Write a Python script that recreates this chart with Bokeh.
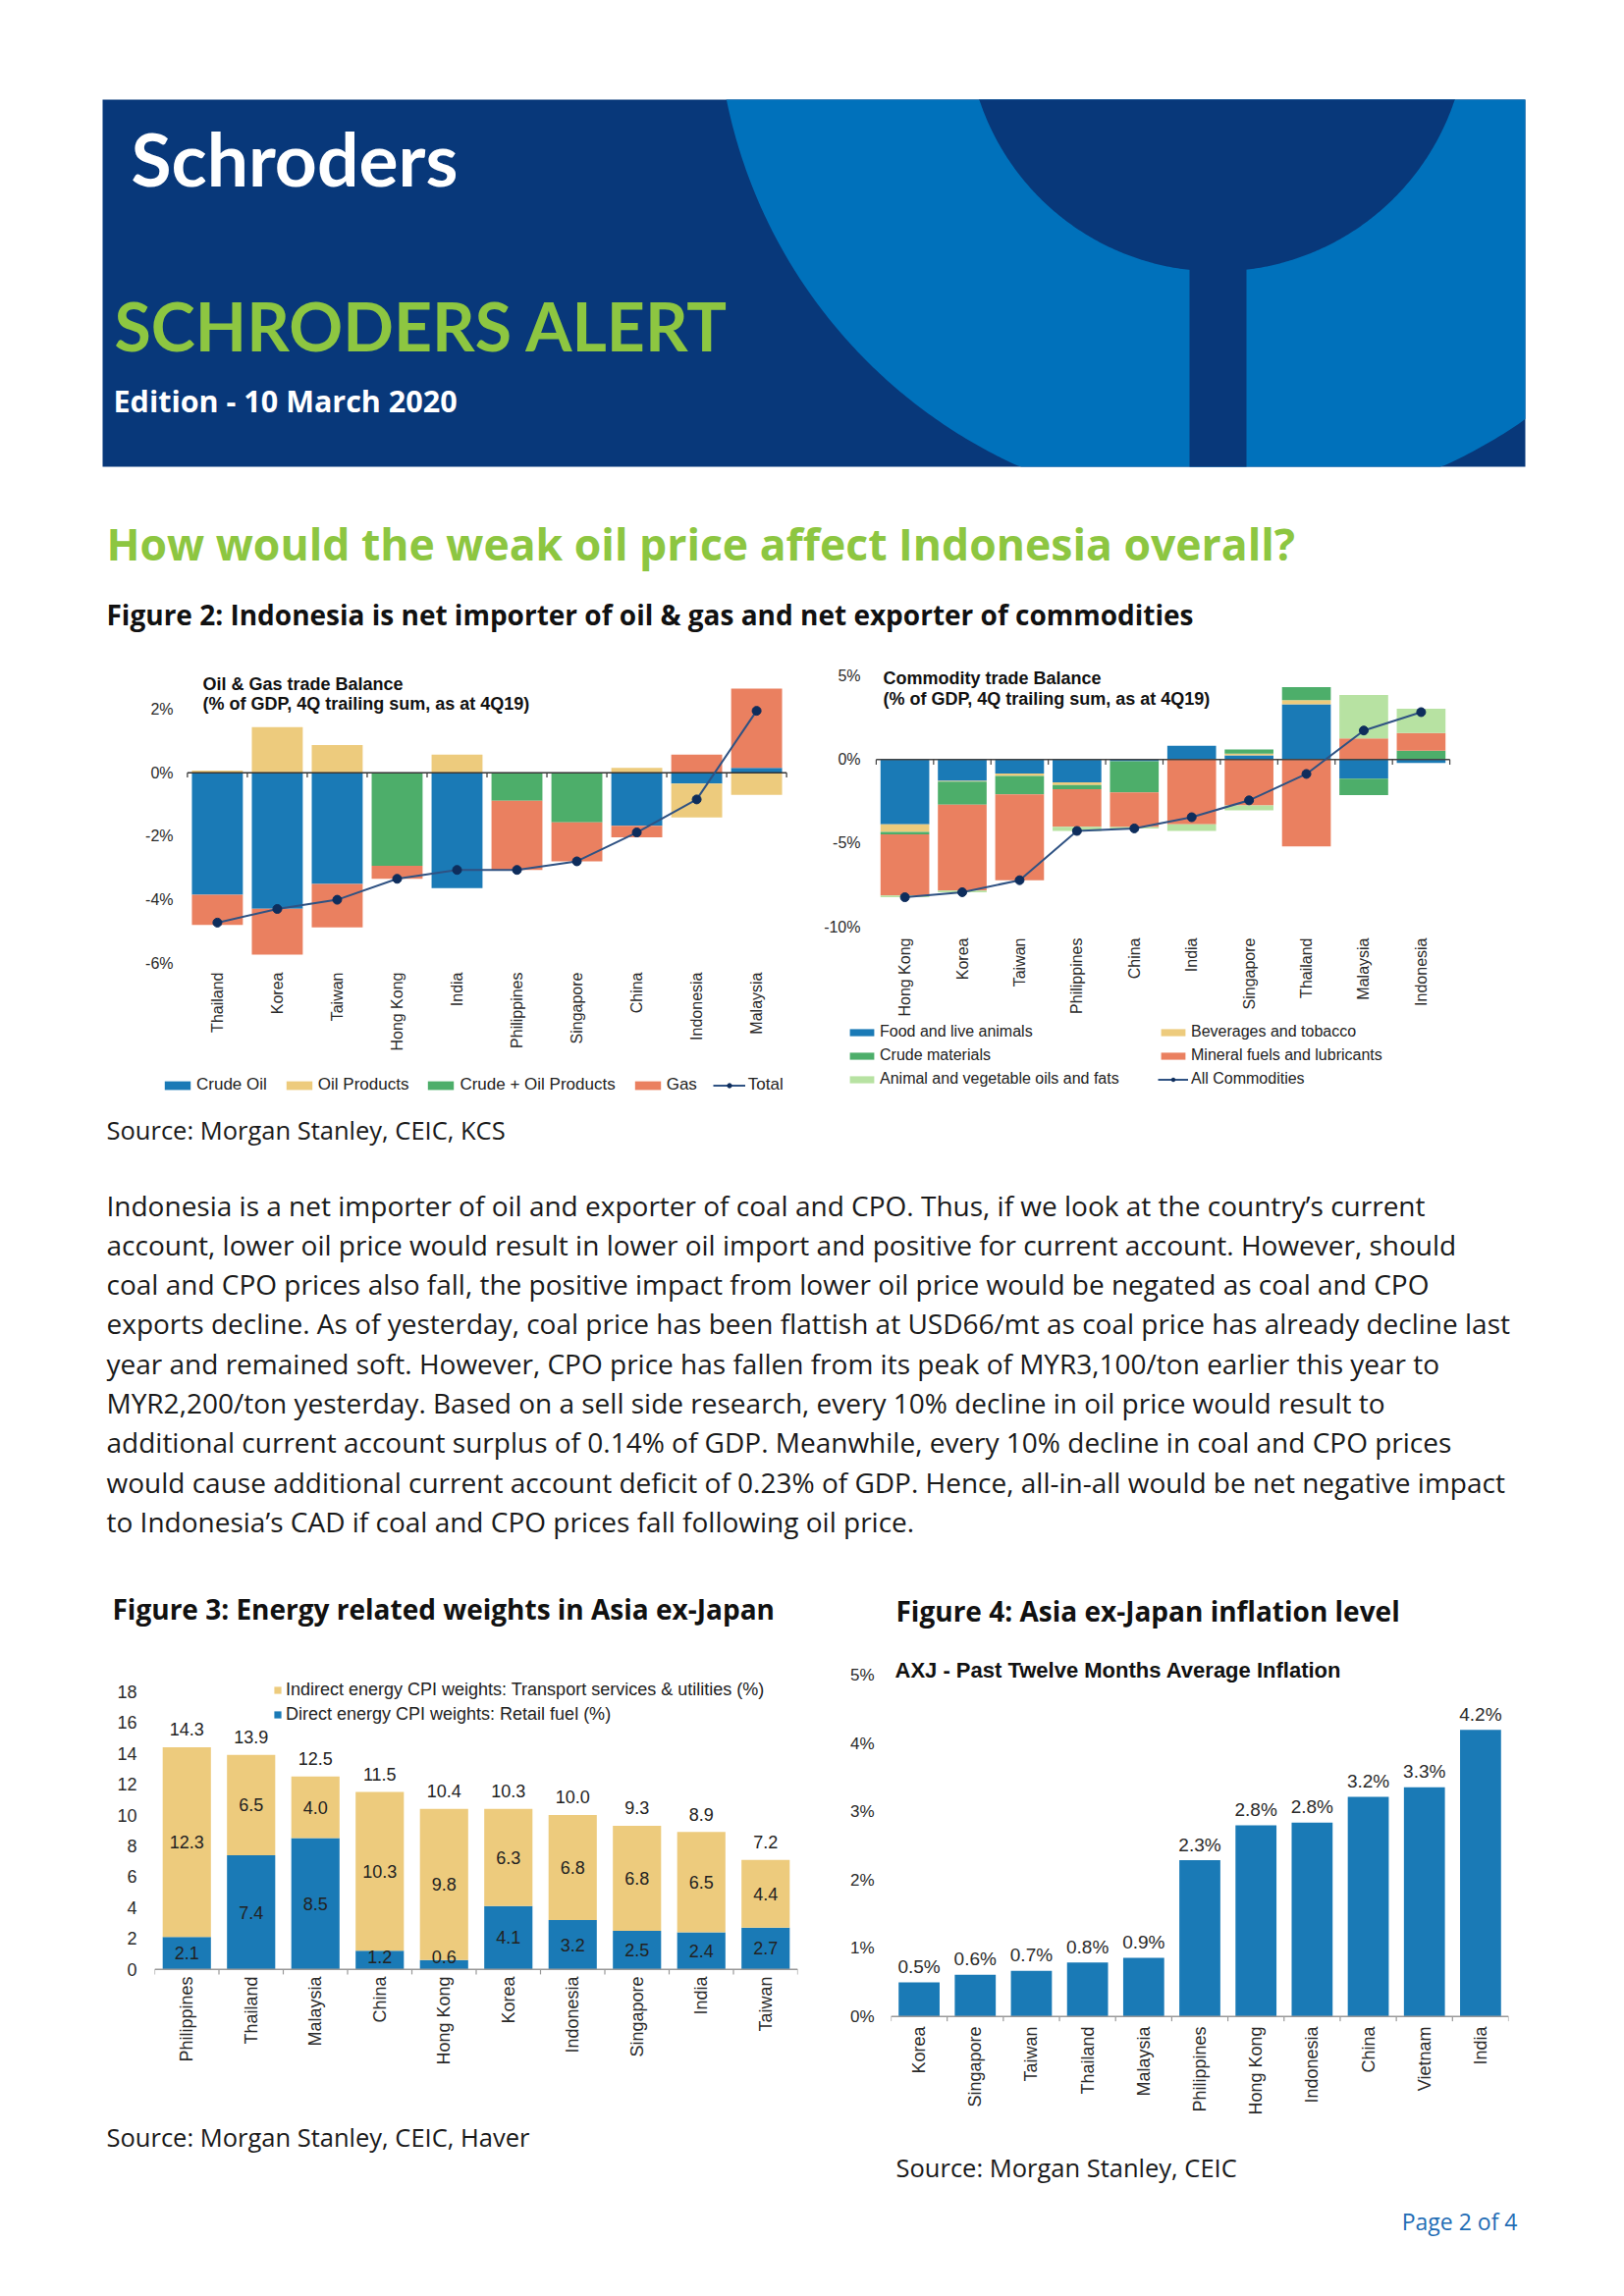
import math
import numpy as np
from bokeh.plotting import figure
from bokeh.models import (ColumnDataSource, Range1d, FactorRange, FixedTicker,
                          PrintfTickFormatter, Legend, LegendItem, Label)
from bokeh.layouts import column, row
from bokeh.core.properties import value
from bokeh.embed import file_html
from bokeh.resources import INLINE

# ---------------- data ----------------
og_countries = ["Thailand", "Korea", "Taiwan", "Hong Kong", "India", "Philippines",
                "Singapore", "China", "Indonesia", "Malaysia"]
og_crude_oil = [-3.84, -4.28, -3.50, 0.0, -3.63, 0.0, 0.0, -1.67, -0.34, 0.15]
og_oil_products = [0.07, 1.44, 0.87, 0.0, 0.57, 0.0, 0.0, 0.15, -1.07, -0.70]
og_crude_plus_oil = [0.0, 0.0, 0.0, -2.93, 0.0, -0.88, -1.56, 0.0, 0.0, 0.0]
og_gas = [-0.95, -1.45, -1.37, -0.41, 0.0, -2.18, -1.23, -0.36, 0.57, 2.50]
og_ticks = [-6, -4, -2, 0, 2]

cm_countries = ["Hong Kong", "Korea", "Taiwan", "Philippines", "China", "India",
                "Singapore", "Thailand", "Malaysia", "Indonesia"]
cm_food = [-3.88, -1.27, -0.84, -1.37, -0.10, 0.82, 0.25, 3.31, -1.14, -0.20]
cm_beverages = [-0.45, -0.05, -0.14, -0.16, 0.0, 0.0, 0.10, 0.25, 0.0, 0.0]
cm_crude_materials = [-0.14, -1.38, -1.10, -0.25, -1.86, 0.0, 0.25, 0.78, -0.98, 0.53]
cm_mineral_fuels = [-3.67, -5.14, -5.14, -2.24, -2.08, -3.88, -2.75, -5.20, 1.27, 1.06]
cm_animal_veg = [-0.10, -0.10, 0.0, -0.25, -0.08, -0.39, -0.29, 0.0, 2.59, 1.45]
cm_ticks = [-10, -5, 0, 5]

cpi_countries = ["Philippines", "Thailand", "Malaysia", "China", "Hong Kong", "Korea",
                 "Indonesia", "Singapore", "India", "Taiwan"]
cpi_direct = [2.1, 7.4, 8.5, 1.2, 0.6, 4.1, 3.2, 2.5, 2.4, 2.7]
cpi_indirect = [12.3, 6.5, 4.0, 10.3, 9.8, 6.3, 6.8, 6.8, 6.5, 4.4]
cpi_total = [14.3, 13.9, 12.5, 11.5, 10.4, 10.3, 10.0, 9.3, 8.9, 7.2]
cpi_ticks = [0, 2, 4, 6, 8, 10, 12, 14, 16, 18]

inf_countries = ["Korea", "Singapore", "Taiwan", "Thailand", "Malaysia", "Philippines",
                 "Hong Kong", "Indonesia", "China", "Vietnam", "India"]
inf_values = [0.50, 0.61, 0.67, 0.79, 0.86, 2.29, 2.80, 2.84, 3.22, 3.36, 4.20]
inf_labels = ["0.5%", "0.6%", "0.7%", "0.8%", "0.9%", "2.3%", "2.8%", "2.8%",
              "3.2%", "3.3%", "4.2%"]
inf_ticks = [0, 1, 2, 3, 4, 5]

paragraph = [
    "Indonesia is a net importer of oil and exporter of coal and CPO. Thus, if we look at the country\u2019s current",
    "account, lower oil price would result in lower oil import and positive for current account. However, should",
    "coal and CPO prices also fall, the positive impact from lower oil price would be negated as coal and CPO",
    "exports decline. As of yesterday, coal price has been flattish at USD66/mt as coal price has already decline last",
    "year and remained soft. However, CPO price has fallen from its peak of MYR3,100/ton earlier this year to",
    "MYR2,200/ton yesterday. Based on a sell side research, every 10% decline in oil price would result to",
    "additional current account surplus of 0.14% of GDP. Meanwhile, every 10% decline in coal and CPO prices",
    "would cause additional current account deficit of 0.23% of GDP. Hence, all-in-all would be net negative impact",
    "to Indonesia\u2019s CAD if coal and CPO prices fall following oil price.",
]

# ---------------- styles ----------------
W = 1636
DARK = "#08387A"
LIGHT = "#0071BB"
GREEN = "#8DC641"
BLUE = "#1A7AB6"
YELLOW = "#EDCB7D"
GREEN2 = "#4DAE6A"
SALMON = "#EA8060"
LGREEN = "#B7E2A2"
NAVY = "#0E2D5C"
LINEC = "#2F5283"
TXT = "#1a1a1a"
CF = "Liberation Sans"
BF = "Open Sans"


def stack(series_list):
    n = len(series_list[0])
    pos = np.zeros(n)
    neg = np.zeros(n)
    out = []
    for s in series_list:
        s = np.asarray(s, float)
        bottom = np.where(s >= 0, pos, neg)
        top = bottom + s
        pos = np.where(s >= 0, top, pos)
        neg = np.where(s < 0, top, neg)
        out.append((bottom, top))
    return out


def band(y0, y1):
    p = figure(width=W, height=y1 - y0, x_range=Range1d(8, 8 + W), y_range=Range1d(y1, y0),
               output_backend="svg", toolbar_location=None, min_border=0,
               x_axis_location=None, y_axis_location=None, title=None)
    p.grid.visible = False
    p.outline_line_color = None
    return p


def put_text(p, x, y, txt, size, color=TXT, font=BF, style="normal", align="left"):
    p.text(x=[x], y=[y], text=[txt], text_font=value(font), text_font_size=size,
           text_font_style=style, text_color=color, text_baseline="middle", text_align=align)


def chart(width, height, factors, yr, left, right, top, bottom, pad=0.0):
    p = figure(width=width, height=height,
               x_range=FactorRange(factors=factors, range_padding=pad, range_padding_units="absolute"),
               y_range=Range1d(*yr), output_backend="svg", toolbar_location=None,
               min_border_left=left, min_border_right=right, min_border_top=top,
               min_border_bottom=bottom, title=None)
    p.grid.visible = False
    p.outline_line_color = None
    return p


def style_axes(p, ysize, xsize, ystand, xstand):
    for ax in (p.xaxis, p.yaxis):
        ax.axis_line_color = None
        ax.major_tick_line_color = None
        ax.minor_tick_line_color = None
        ax.major_tick_out = 0
        ax.major_tick_in = 0
        ax.major_label_text_font = CF
        ax.major_label_text_color = "#2a2a2a"
    p.yaxis.major_label_text_font_size = ysize
    p.xaxis.major_label_text_font_size = xsize
    p.yaxis.major_label_standoff = ystand
    p.xaxis.major_label_standoff = xstand
    p.xaxis.major_label_orientation = math.pi / 2


def axis_line(p, n, tick, color, width=1.5):
    p.segment(x0=[0], y0=[0], x1=[n], y1=[0], line_color=color, line_width=width)
    p.segment(x0=list(range(n + 1)), y0=[0] * (n + 1), x1=list(range(n + 1)),
              y1=[-tick] * (n + 1), line_color=color, line_width=1.2)


def title_label(p, x, y, txt, size="18px"):
    p.add_layout(Label(x=x, y=y, x_units="screen", y_units="screen", text=txt, text_font=CF,
                       text_font_style="bold", text_font_size=size, text_color="#111111",
                       text_baseline="middle"))


# ---------------- band A: header ----------------
A = band(8, 670)
BX0, BX1, BY0, BY1 = 112, 1561, 109, 483
A.quad(left=[BX0], right=[BX1], top=[BY0], bottom=[BY1], fill_color=DARK, line_color=None)
th = np.linspace(0, 2 * np.pi, 721)
A.patch(np.clip(1261 + 524 * np.cos(th), BX0, BX1), np.clip(5 + 524 * np.sin(th), BY0, BY1),
        fill_color=LIGHT, line_color=None)
A.patch(np.clip(1247 + 255 * np.cos(th), BX0, BX1), np.clip(29 + 255 * np.sin(th), BY0, BY1),
        fill_color=DARK, line_color=None)
A.quad(left=[1219], right=[1277], top=[268], bottom=[BY1], fill_color=DARK, line_color=None)
put_text(A, 141, 168, "Schroders", "75px", "white", "Lato", "bold")
put_text(A, 124, 339, "SCHRODERS ALERT", "68px", GREEN, "Lato", "bold")
put_text(A, 123, 415.5, "Edition - 10 March 2020", "30.5px", "white", BF, "bold")
put_text(A, 116, 561, "How would the weak oil price affect Indonesia overall?", "44.5px", GREEN, BF, "bold")
put_text(A, 116, 633, "Figure 2: Indonesia is net importer of oil & gas and net exporter of commodities",
         "28px", "#111111", BF, "bold")

# ---------------- chart row B (frames: top 680, bottom 1124) ----------------
p1 = chart(830, 464, og_countries, (-10.179, 3.546), 164, 3, 10, 10, pad=0.4325)
style_axes(p1, "16px", "16px", -12, -126)
p1.yaxis.ticker = FixedTicker(ticks=og_ticks)
p1.yaxis.formatter = PrintfTickFormatter(format="%d%%")
og_names = ["Crude Oil", "Oil Products", "Crude + Oil Products", "Gas"]
og_cols = [BLUE, YELLOW, GREEN2, SALMON]
og_series = [og_crude_oil, og_oil_products, og_crude_plus_oil, og_gas]
items = []
for nm, colr, (b, t) in zip(og_names, og_cols, stack(og_series)):
    src = ColumnDataSource(dict(x=og_countries, bottom=b, top=t))
    r = p1.vbar(x="x", bottom="bottom", top="top", width=0.85, source=src,
                fill_color=colr, line_color=None)
    items.append(LegendItem(label=nm, renderers=[r]))
axis_line(p1, len(og_countries), 0.15, "#333333")
og_total = np.sum(np.array(og_series), axis=0)
ls = ColumnDataSource(dict(x=og_countries, y=og_total))
rl = p1.line(x="x", y="y", source=ls, line_color=LINEC, line_width=2)
rs = p1.scatter(x="x", y="y", source=ls, size=9, fill_color=NAVY, line_color=NAVY)
items.append(LegendItem(label="Total", renderers=[rl, rs]))
p1.add_layout(Legend(items=items, orientation="horizontal", location=(0, 1), glyph_width=33,
                     glyph_height=11, label_height=11, label_standoff=3, spacing=16, padding=0,
                     margin=0, label_text_font=CF, label_text_font_size="17px",
                     label_text_color="#222222", border_line_color=None,
                     background_fill_alpha=0))
title_label(p1, 42, 420, "Oil & Gas trade Balance")
title_label(p1, 42, 399.5, "(% of GDP, 4Q trailing sum, as at 4Q19)")

p2 = chart(806, 464, cm_countries, (-20.135, 5.952), 30, 128, 10, 10, pad=0.546)
style_axes(p2, "16px", "16px", -16, -161)
p2.yaxis.ticker = FixedTicker(ticks=cm_ticks)
p2.yaxis.formatter = PrintfTickFormatter(format="%d%%")
cm_names = ["Food and live animals", "Beverages and tobacco", "Crude materials",
            "Mineral fuels and lubricants", "Animal and vegetable oils and fats"]
cm_cols = [BLUE, YELLOW, GREEN2, SALMON, LGREEN]
cm_series = [cm_food, cm_beverages, cm_crude_materials, cm_mineral_fuels, cm_animal_veg]
rend2 = []
for colr, (b, t) in zip(cm_cols, stack(cm_series)):
    src = ColumnDataSource(dict(x=cm_countries, bottom=b, top=t))
    rend2.append(p2.vbar(x="x", bottom="bottom", top="top", width=0.85, source=src,
                         fill_color=colr, line_color=None))
axis_line(p2, len(cm_countries), 0.3, "#444444")
cm_total = np.sum(np.array(cm_series), axis=0)
ls2 = ColumnDataSource(dict(x=cm_countries, y=cm_total))
rl2 = p2.line(x="x", y="y", source=ls2, line_color=LINEC, line_width=2)
rs2 = p2.scatter(x="x", y="y", source=ls2, size=9, fill_color=NAVY, line_color=NAVY)
leg_kw = dict(orientation="vertical", glyph_width=31, glyph_height=9, label_height=9,
              label_standoff=3, spacing=6, padding=0, margin=0, label_text_font=CF,
              label_text_font_size="16px", label_text_color="#222222",
              border_line_color=None, background_fill_alpha=0)
p2.add_layout(Legend(items=[LegendItem(label=cm_names[0], renderers=[rend2[0]]),
                            LegendItem(label=cm_names[2], renderers=[rend2[2]]),
                            LegendItem(label=cm_names[4], renderers=[rend2[4]])],
                     location=(2, 8), **leg_kw))
p2.add_layout(Legend(items=[LegendItem(label=cm_names[1], renderers=[rend2[1]]),
                            LegendItem(label=cm_names[3], renderers=[rend2[3]]),
                            LegendItem(label="All Commodities", renderers=[rl2, rs2])],
                     location=(319, 8), **leg_kw))
title_label(p2, 39, 426, "Commodity trade Balance")
title_label(p2, 39, 405, "(% of GDP, 4Q trailing sum, as at 4Q19)")

# ---------------- band C ----------------
C = band(1134, 1691)
put_text(C, 116, 1158, "Source: Morgan Stanley, CEIC, KCS", "25.5px")
for i, line in enumerate(paragraph):
    put_text(C, 116, 1235 + 40.3 * i, line, "28px")
put_text(C, 122, 1646, "Figure 3: Energy related weights in Asia ex-Japan", "28px", "#111111", BF, "bold")
put_text(C, 920, 1648, "Figure 4: Asia ex-Japan inflation level", "28px", "#111111", BF, "bold")

# ---------------- chart row D (frames: top 1700, bottom 2072) ----------------
p3 = chart(842, 474, cpi_countries, (-3.39, 19.96), 157, 30, 9, 93)
style_axes(p3, "18px", "18px", 18, -46)
p3.yaxis.ticker = FixedTicker(ticks=cpi_ticks)
p3.yaxis.formatter = PrintfTickFormatter(format="%d")
d = np.array(cpi_direct)
ind = np.array(cpi_indirect)
s3 = ColumnDataSource(dict(x=cpi_countries, d=d, top=d + ind,
                           dmid=np.maximum(d / 2, 0.8), imid=d + ind / 2,
                           dl=[f"{v:.1f}" for v in cpi_direct],
                           il=[f"{v:.1f}" for v in cpi_indirect],
                           tl=[f"{v:.1f}" for v in cpi_total],
                           ty=d + ind + 1.15))
rd = p3.vbar(x="x", bottom=0, top="d", width=0.75, source=s3, fill_color=BLUE, line_color=None)
ri = p3.vbar(x="x", bottom="d", top="top", width=0.75, source=s3, fill_color=YELLOW, line_color=None)
axis_line(p3, len(cpi_countries), 0.33, "#999999")
lab_kw = dict(text_font=value(CF), text_font_size="18px", text_color="#222222",
              text_align="center", text_baseline="middle")
p3.text(x="x", y="dmid", text="dl", source=s3, **lab_kw)
p3.text(x="x", y="imid", text="il", source=s3, **lab_kw)
p3.text(x="x", y="ty", text="tl", source=s3, **lab_kw)
p3.add_layout(Legend(items=[LegendItem(label="Indirect energy CPI weights: Transport services & utilities (%)",
                                       renderers=[ri]),
                            LegendItem(label="Direct energy CPI weights: Retail fuel (%)", renderers=[rd])],
                     location=(121, 302), orientation="vertical", glyph_width=9, glyph_height=9,
                     label_height=9, label_standoff=4, spacing=4, padding=0, margin=0,
                     label_text_font=CF, label_text_font_size="18px", label_text_color="#222222",
                     border_line_color=None, background_fill_alpha=0))

p4 = chart(794, 474, inf_countries, (-0.0752, 5.204), 65, 100, 9, 93)
style_axes(p4, "17px", "18px", 17, 5)
p4.yaxis.ticker = FixedTicker(ticks=inf_ticks)
p4.yaxis.formatter = PrintfTickFormatter(format="%d%%")
s4 = ColumnDataSource(dict(x=inf_countries, v=inf_values, lab=inf_labels,
                           ly=np.array(inf_values) + 0.23))
p4.vbar(x="x", top="v", bottom=0, width=0.73, source=s4, fill_color=BLUE, line_color=None)
axis_line(p4, len(inf_countries), 0.07, "#999999")
p4.text(x="x", y="ly", text="lab", source=s4, text_font=value(CF), text_font_size="19px",
        text_color="#2a2a2a", text_align="center", text_baseline="middle")
title_label(p4, 4, 357.6, "AXJ - Past Twelve Months Average Inflation", "22px")

# ---------------- band E ----------------
E = band(2165, 2331)
put_text(E, 116, 2184, "Source: Morgan Stanley, CEIC, Haver", "25.5px")
put_text(E, 920, 2215, "Source: Morgan Stanley, CEIC", "25.5px")
put_text(E, 1553, 2270, "Page 2 of 4", "23px", "#1F6DB5", BF, "normal", "right")

layout = column(A, row(p1, p2), C, row(p3, p4), E)
open("out.html", "w").write(file_html(layout, INLINE))
